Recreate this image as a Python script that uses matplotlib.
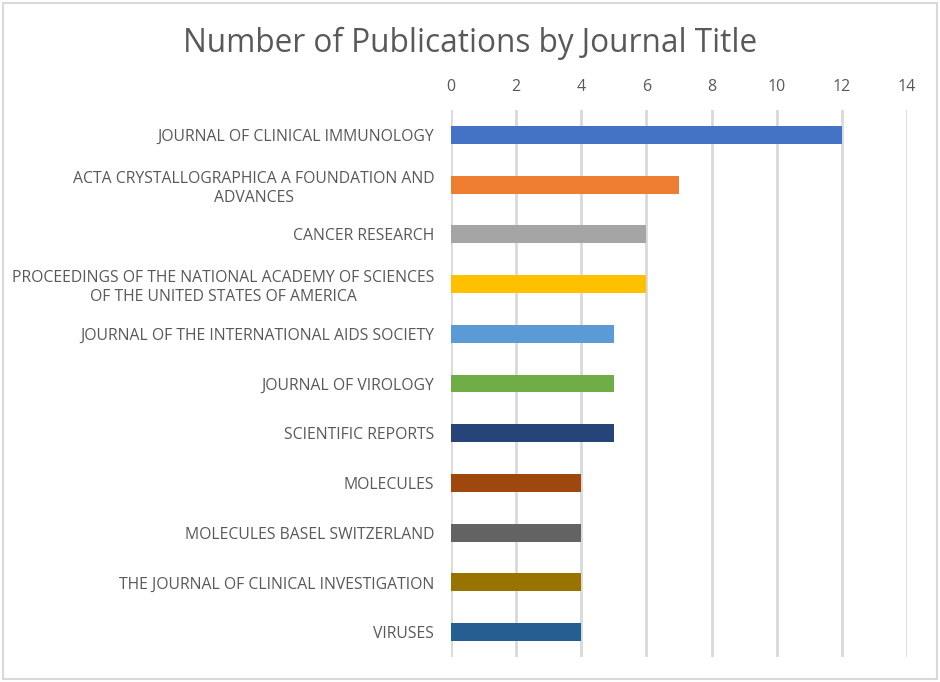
import matplotlib.pyplot as plt

# Journals (top to bottom) and publication counts
journals = [
    'JOURNAL OF CLINICAL IMMUNOLOGY',
    'ACTA CRYSTALLOGRAPHICA A FOUNDATION AND\nADVANCES',
    'CANCER RESEARCH',
    'PROCEEDINGS OF THE NATIONAL ACADEMY OF SCIENCES\nOF THE UNITED STATES OF AMERICA',
    'JOURNAL OF THE INTERNATIONAL AIDS SOCIETY',
    'JOURNAL OF VIROLOGY',
    'SCIENTIFIC REPORTS',
    'MOLECULES',
    'MOLECULES BASEL SWITZERLAND',
    'THE JOURNAL OF CLINICAL INVESTIGATION',
    'VIRUSES',
]
counts = [12, 7, 6, 6, 5, 5, 5, 4, 4, 4, 4]
colors = ['#4472C4', '#ED7D31', '#A5A5A5', '#FFC000', '#5B9BD5', '#70AD47',
          '#264478', '#9E480E', '#636363', '#997300', '#255E91']
x_ticks = [0, 2, 4, 6, 8, 10, 12, 14]

plt.rcParams['font.family'] = ['Open Sans', 'DejaVu Sans']
text_color = '#595959'

fig = plt.figure(figsize=(9.4, 6.82), dpi=100)
ax = fig.add_axes([0.4798, 0.0367, 0.4851, 0.802])

ypos = list(range(len(journals)))
ax.barh(ypos, counts, height=0.36, color=colors, zorder=3)
ax.set_ylim(len(journals) - 0.5, -0.5)
ax.set_xlim(0, 14)

ax.set_xticks(x_ticks)
ax.xaxis.tick_top()
ax.tick_params(axis='x', length=0, pad=11, labelsize=11.5, labelcolor=text_color)
ax.set_yticks(ypos)
ax.set_yticklabels(journals, multialignment='center', linespacing=1.25)
ax.tick_params(axis='y', length=0, pad=12, labelsize=11.3, labelcolor=text_color)

ax.grid(axis='x', color='#D9D9D9', linewidth=2, zorder=0)
for s in ax.spines.values():
    s.set_visible(False)

fig.text(0.5, 0.936, 'Number of Publications by Journal Title',
         ha='center', va='center', fontsize=22.7, color=text_color)

# light border around the whole chart
border = plt.Rectangle((0.003, 0.004), 0.994, 0.992, transform=fig.transFigure,
                       fill=False, edgecolor='#D9D9D9', linewidth=1.5)
fig.patches.append(border)

fig.savefig('out.png', dpi=100)
